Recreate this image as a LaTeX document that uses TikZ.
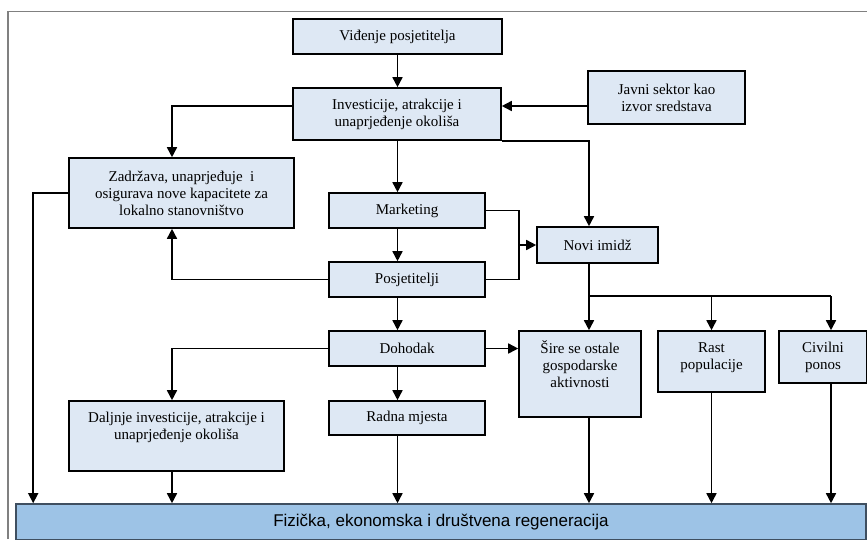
\documentclass[tikz,border=0pt]{standalone}
\usepackage{fontspec}
\setmainfont{Liberation Serif}
\newfontfamily\regenfont{Liberation Sans}
\usetikzlibrary{arrows.meta}

\definecolor{boxblue}{HTML}{DEE8F4}
\definecolor{barblue}{HTML}{9DC3E6}
\definecolor{barline}{HTML}{3F4F60}

\newcommand{\toptext}[3]{\parbox[c][#2][t]{#1}{\centering\vspace*{10pt}\strut #3}}

\tikzset{
  box/.style={draw=black, fill=boxblue, line width=1.6pt, align=center, inner sep=0pt,
    font=\fontsize{15}{17}\selectfont},
  wire/.style={line width=1.6pt},
  arr/.style={wire, -{Triangle[length=10pt,width=10pt]}}
}

\begin{document}
\begin{tikzpicture}[x=1pt,y=-1pt]

\def\width{867}
\def\height{539}

\useasboundingbox (0,0) rectangle (\width,\height);

% FRAME
\draw [line width=1.2pt, draw=gray] (8,\height) -- (8,11.5) -- (\width,11.5);

% BOXES
\node[box, minimum width=209pt, minimum height=35pt] (vid) at (397.5,36.5) {Viđenje posjetitelja};
\node[box, minimum width=208pt, minimum height=52pt] (inv) at (397,114) {Investicije, atrakcije i\\unaprjeđenje okoliša};
\node[box, minimum width=157pt, minimum height=53pt] (javni) at (666.5,97.5) {Javni sektor kao\\izvor sredstava};
\node[box, minimum width=225pt, minimum height=70pt] (zadr) at (181.5,193) {Zadržava, unaprjeđuje\ \ i\\osigurava nove kapacitete za\\lokalno stanovništvo};
\node[box, minimum width=156pt, minimum height=35pt] (mark) at (407,210.5) {Marketing};
\node[box, minimum width=156pt, minimum height=35pt] (posj) at (407,279.5) {Posjetitelji};
\node[box, minimum width=121pt, minimum height=36pt] (imidz) at (597.5,245) {Novi imidž};
\node[box, minimum width=156pt, minimum height=35pt] (doh) at (407,348.5) {Dohodak};
\node[box, minimum width=156pt, minimum height=34pt] (radna) at (407,418) {Radna mjesta};
\node[box] (dalj) at (176.5,436) {\toptext{215pt}{70pt}{Daljnje investicije, atrakcije i\\unaprjeđenje okoliša}};
\node[box] (sire) at (580,374) {\toptext{122pt}{86pt}{Šire se ostale\\gospodarske\\aktivnosti}};
\node[box] (rast) at (711.5,361.5) {\toptext{107pt}{61pt}{Rast\\populacije}};
\node[box] (civ) at (823,357) {\toptext{88pt}{52pt}{Civilni\\ponos}};
\node[box, fill=barblue, draw=barline, minimum width=850pt, minimum height=35.5pt,
  font=\fontsize{17}{20}\regenfont] (regen) at (441,521.75) {Fizička, ekonomska i društvena regeneracija};

% TOP PART
\draw [arr] (vid) -- (vid |- inv.north);
\draw [arr] ([yshift=8pt]inv.west) -| ([xshift=-9.5pt]zadr.north);
\draw [arr] (inv.south -| vid) -- (mark.north -| vid);
\draw [arr] (inv.south east) -| ([xshift=-8.5pt]imidz.north);
\draw [arr] ([yshift=-8.5pt]javni.west) -- ([yshift=-8.5pt]javni.west -| inv.east);

% MIDDLE
\coordinate (mj) at (519,245);
\draw [wire] (mark.east) -| (mj) |- (posj.east);
\draw [arr] (mj) -- (imidz.west);
\draw [arr] (mark.south -| vid) -- (posj.north -| vid);
\draw [arr] (posj.west) -| ([xshift=-9.5pt]zadr.south);
\draw [arr] (zadr.west) -- ++(-35,0) coordinate (zl) -- (zl |- regen.north);
\draw [arr] (posj.south -| vid) -- (doh.north -| vid);
\draw [arr] (doh.west) -| ([xshift=-4.5pt]dalj.north);
\draw [arr] (doh.south -| vid) -- (radna.north -| vid);
\draw [arr] (doh.east) -- (doh.east -| sire.west);

% FAN OUT OF NEW IMAGE
\coordinate (fanL) at (589,296);
\coordinate (fanR) at (831,296);
\draw [wire] ([xshift=-8.5pt]imidz.south) -- (fanL) -- (fanR);
\draw [arr] (fanL) -- (fanL |- sire.north);
\draw [arr] (fanL -| rast.north) -- (rast.north);
\draw [arr] (fanR) -- (fanR |- civ.north);

% INTO REGENERATION
\draw [arr] ([xshift=-4.5pt]dalj.south) -- ([xshift=-4.5pt]dalj.south |- regen.north);
\draw [arr] (radna.south -| vid) -- (regen.north -| vid);
\draw [arr] (fanL |- sire.south) -- (fanL |- regen.north);
\draw [arr] (rast.south) -- (rast.south |- regen.north);
\draw [arr] (fanR |- civ.south) -- (fanR |- regen.north);

\end{tikzpicture}
\end{document}
